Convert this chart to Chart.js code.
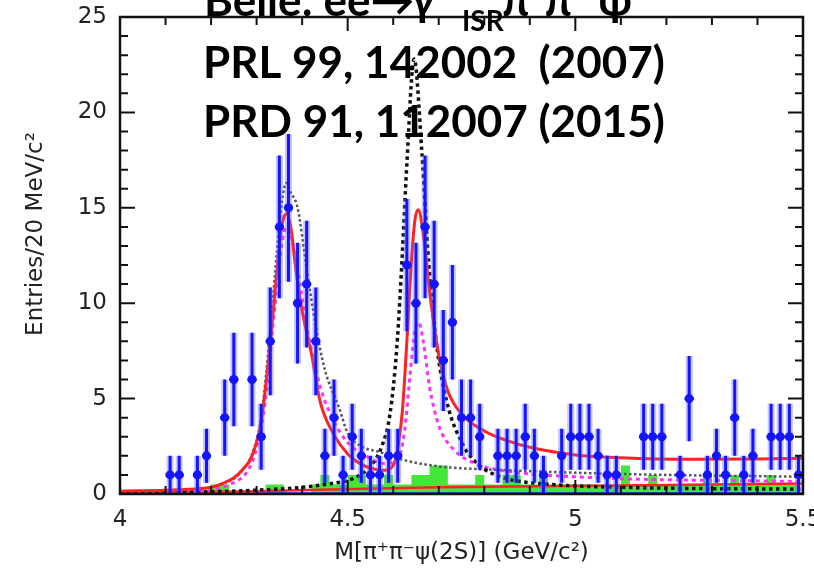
<!DOCTYPE html>
<html>
<head>
<meta charset="utf-8">
<script src="https://cdn.jsdelivr.net/npm/chart.js@4/dist/chart.umd.min.js"></script>
<style>
  html, body { margin: 0; padding: 0; background: #fff; }
  #wrap { width: 814px; height: 571px; }
</style>
</head>
<body>
<div id="wrap"><canvas id="chart" width="814" height="571"></canvas></div>
<script>
// --- binning of the histogram (20 MeV bins from 4.0 to 5.5 GeV)
const binLow = 4.0;
const binWidth = 0.02;

// entries per bin (0 = no point drawn)
const entries = [
  0, 0, 0, 0, 0,   1, 1, 0, 1, 2,   0, 4, 6, 0, 6,
  3, 8, 14, 15, 10,  11, 8, 2, 4, 1,   3, 2, 1, 1, 2,
  2, 12, 10, 14, 11,  7, 9, 4, 4, 3,   0, 2, 2, 2, 3,
  2, 1, 0, 2, 3,   3, 3, 2, 1, 1,   0, 0, 3, 3, 3,
  0, 1, 5, 0, 1,   2, 1, 4, 1, 2,   0, 3, 3, 3, 1
];

// green sideband histogram, same bins
const sideband = [
  0, 0, 0, 0, 0,   0, 0, 0, 0, 0,   0.5, 0.5, 0, 0, 0,
  0, 0.5, 0.5, 0, 0,   0, 0.5, 1, 0.5, 0.5,   1, 1, 0.5, 0.5, 1,
  0.5, 0.5, 1, 1, 1.5,   1.5, 0.5, 0.5, 0.5, 1,   0.5, 0.5, 1, 1, 0.5,
  0.5, 1, 0.5, 0.5, 0.5,   0.5, 0.5, 0.5, 0.5, 0.5,   1.5, 0.5, 0.5, 1, 0.5,
  0.5, 0.5, 0.5, 0.5, 1,   0.5, 0.5, 1, 0.5, 0.5,   0.5, 1, 0.5, 0.5, 0.5
];

// fit curves
const fitTotalX = [4.00, 4.10, 4.15, 4.20, 4.23, 4.25, 4.27, 4.29, 4.31, 4.33, 4.345, 4.355, 4.365, 4.375, 4.385, 4.40, 4.42, 4.44, 4.47, 4.50, 4.53, 4.56, 4.58, 4.60, 4.61, 4.62, 4.63, 4.64, 4.648, 4.655, 4.665, 4.68, 4.70, 4.72, 4.75, 4.80, 4.85, 4.90, 5.00, 5.10, 5.25, 5.40, 5.50];
const fitTotalY = [0.15, 0.2, 0.25, 0.35, 0.6, 0.85, 1.3, 2.0, 3.8, 7.9, 11.8, 14.0, 14.7, 14.0, 12.0, 9.6, 7.4, 4.8, 3.1, 2.1, 1.55, 1.3, 1.25, 1.5, 2.4, 4.3, 8.0, 12.2, 14.4, 14.9, 13.8, 10.6, 7.3, 5.4, 4.2, 3.3, 2.8, 2.45, 2.05, 1.9, 1.82, 1.84, 1.87];

const bkgX = [4.0, 4.3, 4.7, 5.1, 5.5];
const bkgY = [0.05, 0.15, 0.35, 0.45, 0.55];

const wideX = [4.0, 4.15, 4.22, 4.26, 4.29, 4.31, 4.33, 4.345, 4.355, 4.365, 4.375, 4.39, 4.41, 4.43, 4.45, 4.48, 4.50, 4.53, 4.57, 4.62, 4.70, 4.85, 5.1, 5.5];
const wideY = [0.1, 0.2, 0.5, 1.0, 2.1, 4.0, 8.6, 12.8, 15.2, 16.3, 15.8, 15.0, 11.8, 8.8, 6.5, 4.6, 3.2, 2.5, 2.2, 1.8, 1.45, 1.25, 1.05, 0.9];

const narrowX = [4.0, 4.3, 4.45, 4.52, 4.555, 4.575, 4.593, 4.608, 4.619, 4.63, 4.646, 4.663, 4.678, 4.696, 4.718, 4.755, 4.776, 4.80, 4.85, 4.95, 5.1, 5.5];
const narrowY = [0.05, 0.2, 0.5, 0.9, 1.6, 2.5, 4.2, 7.7, 12.1, 17.3, 22.8, 17.9, 12.1, 7.7, 4.8, 2.5, 1.8, 1.3, 0.8, 0.5, 0.35, 0.25];

const compX = [4.0, 4.2, 4.25, 4.28, 4.30, 4.32, 4.34, 4.355, 4.365, 4.375, 4.39, 4.41, 4.44, 4.47, 4.50, 4.54, 4.58, 4.61, 4.625, 4.638, 4.648, 4.656, 4.666, 4.68, 4.70, 4.73, 4.78, 4.85, 5.0, 5.5];
const compY = [0.0, 0.25, 0.6, 1.2, 2.4, 5.0, 9.8, 13.0, 14.0, 13.6, 11.8, 8.8, 5.6, 3.8, 2.7, 2.0, 1.6, 1.8, 3.3, 6.5, 8.6, 9.0, 8.0, 5.6, 3.6, 2.4, 1.6, 1.2, 0.9, 0.65];

const baseX = [4.0, 5.5];
const baseY = [0.03, 0.03];

// axis
const xMajor = [4, 4.5, 5, 5.5];
const yMajor = [0, 5, 10, 15, 20, 25];

const binCenters = entries.map((_, i) => +(binLow + binWidth * (i + 0.5)).toFixed(3));
const toXY = (xs, ys) => xs.map((x, i) => ({ x: x, y: ys[i] }));

const points = [];
entries.forEach((n, i) => {
  if (n > 0) points.push({ x: binCenters[i], y: n, err: Math.sqrt(n) });
});

// error bars under the data markers
const errorBars = {
  id: 'errorBars',
  beforeDatasetDraw(chart, args) {
    if (args.index !== 0) return;
    const { ctx, scales: { x, y } } = chart;
    ctx.save();
    for (const p of points) {
      const px = x.getPixelForValue(p.x);
      const yTop = y.getPixelForValue(p.y + p.err);
      const yBot = y.getPixelForValue(Math.max(p.y - p.err, 0));
      const py = y.getPixelForValue(p.y);
      const xl = x.getPixelForValue(p.x - binWidth / 2);
      const xr = x.getPixelForValue(p.x + binWidth / 2);
      // soft halo
      ctx.strokeStyle = 'rgba(110, 110, 255, 0.4)';
      ctx.lineWidth = 7;
      ctx.beginPath();
      ctx.moveTo(px, yTop); ctx.lineTo(px, yBot);
      ctx.stroke();
      // core
      ctx.strokeStyle = '#1414ff';
      ctx.lineWidth = 3;
      ctx.beginPath();
      ctx.moveTo(px, yTop); ctx.lineTo(px, yBot);
      ctx.moveTo(xl, py); ctx.lineTo(xr, py);
      ctx.stroke();
    }
    ctx.restore();
  }
};

// frame with inward ticks on all four sides
const frameTicks = {
  id: 'frameTicks',
  afterDatasetsDraw(chart) {
    const { ctx, chartArea: a, scales: { x, y } } = chart;
    ctx.save();
    ctx.strokeStyle = '#111';
    ctx.lineWidth = 2;
    ctx.beginPath();
    for (let i = 0; i <= 15; i++) {
      const v = 4 + i / 10;
      const px = x.getPixelForValue(v);
      const len = i % 5 === 0 ? 14 : 8;
      ctx.moveTo(px, a.top); ctx.lineTo(px, a.top + len);
      ctx.moveTo(px, a.bottom); ctx.lineTo(px, a.bottom - len);
    }
    for (let i = 0; i <= 25; i++) {
      const py = y.getPixelForValue(i);
      const len = i % 5 === 0 ? 15 : 8;
      ctx.moveTo(a.left, py); ctx.lineTo(a.left + len, py);
      ctx.moveTo(a.right, py); ctx.lineTo(a.right - len, py);
    }
    ctx.stroke();
    ctx.lineWidth = 2.5;
    ctx.strokeRect(a.left, a.top, a.right - a.left, a.bottom - a.top);
    ctx.restore();
  }
};

// y title and the reference text pasted on top
const overlayText = {
  id: 'overlayText',
  afterDraw(chart) {
    const { ctx } = chart;
    ctx.save();
    ctx.fillStyle = '#222';
    ctx.font = '23px "DejaVu Sans"';
    ctx.textAlign = 'center';
    ctx.textBaseline = 'middle';
    ctx.translate(36, 234);
    ctx.rotate(-Math.PI / 2);
    ctx.fillText('Entries/20 MeV/c²', 0, 0);
    ctx.restore();

    ctx.save();
    ctx.fillStyle = '#000';
    ctx.textBaseline = 'alphabetic';
    ctx.textAlign = 'left';
    ctx.font = 'bold 44px Lato';
    ctx.fillText('Belle: ee→', 204, 16);
    ctx.fillText('γ', 410, 16);
    ctx.font = 'bold 28px Lato';
    ctx.fillText('ISR', 462, 31);
    ctx.font = 'bold 44px Lato';
    ctx.fillText('π⁺π⁻ ψ', 502, 16);
    ctx.fillText('PRL 99, 142002  (2007)', 203, 78);
    ctx.fillText('PRD 91, 112007 (2015)', 203, 137);
    ctx.restore();
  }
};

const tickFont = { family: 'DejaVu Sans', size: 23 };

new Chart(document.getElementById('chart'), {
  type: 'scatter',
  data: {
    datasets: [
      {
        label: 'data',
        data: points,
        pointRadius: 4.5,
        pointBackgroundColor: '#1414ff',
        pointBorderWidth: 0,
        showLine: false
      },
      {
        label: 'fit',
        data: toXY(fitTotalX, fitTotalY),
        showLine: true, pointRadius: 0,
        borderColor: '#ff2222', borderWidth: 3,
        cubicInterpolationMode: 'monotone'
      },
      {
        label: 'narrow',
        data: toXY(narrowX, narrowY),
        showLine: true, pointRadius: 0,
        borderColor: '#111', borderWidth: 3.5, borderDash: [3.5, 3.5],
        cubicInterpolationMode: 'monotone'
      },
      {
        label: 'wide',
        data: toXY(wideX, wideY),
        showLine: true, pointRadius: 0,
        borderColor: '#555', borderWidth: 2.5, borderDash: [2.5, 2.5],
        cubicInterpolationMode: 'monotone'
      },
      {
        label: 'component',
        data: toXY(compX, compY),
        showLine: true, pointRadius: 0,
        borderColor: '#ff30ff', borderWidth: 3, borderDash: [4, 4],
        cubicInterpolationMode: 'monotone'
      },
      {
        label: 'background',
        data: toXY(bkgX, bkgY),
        showLine: true, pointRadius: 0,
        borderColor: '#ff2222', borderWidth: 2.5,
        cubicInterpolationMode: 'monotone'
      },
      {
        label: 'base',
        data: toXY(baseX, baseY),
        showLine: true, pointRadius: 0,
        borderColor: '#2020ff', borderWidth: 2.5
      },
      {
        label: 'sideband',
        data: toXY(binCenters, sideband),
        showLine: true, pointRadius: 0,
        stepped: 'middle',
        borderWidth: 0,
        borderColor: 'rgba(0,0,0,0)',
        backgroundColor: '#44e63a',
        fill: 'origin'
      }
    ]
  },
  options: {
    responsive: false,
    animation: false,
    layout: { padding: { left: 22, right: 11, top: 17, bottom: 0 } },
    plugins: { legend: { display: false }, tooltip: { enabled: false } },
    scales: {
      x: {
        type: 'linear', min: 4, max: 5.5,
        grid: { display: false, drawTicks: false },
        border: { display: false },
        afterBuildTicks: s => { s.ticks = xMajor.map(v => ({ value: v })); },
        ticks: {
          padding: 12, font: tickFont, color: '#222',
          maxRotation: 0, autoSkip: false,
          callback: v => String(v)
        },
        title: {
          display: true, text: 'M[π⁺π⁻ψ(2S)] (GeV/c²)',
          font: { family: 'DejaVu Sans', size: 23 }, color: '#222',
          padding: { top: 0, bottom: 4 }
        },
        afterFit: s => { s.height = 77; s.paddingLeft = 0; s.paddingRight = 0; }
      },
      y: {
        type: 'linear', min: 0, max: 25,
        grid: { display: false, drawTicks: false },
        border: { display: false },
        afterBuildTicks: s => { s.ticks = yMajor.map(v => ({ value: v })); },
        ticks: { padding: 13, font: tickFont, color: '#222' },
        afterFit: s => { s.width = 98; s.paddingTop = 0; s.paddingBottom = 0; }
      }
    }
  },
  plugins: [errorBars, frameTicks, overlayText]
});
</script>
</body>
</html>
